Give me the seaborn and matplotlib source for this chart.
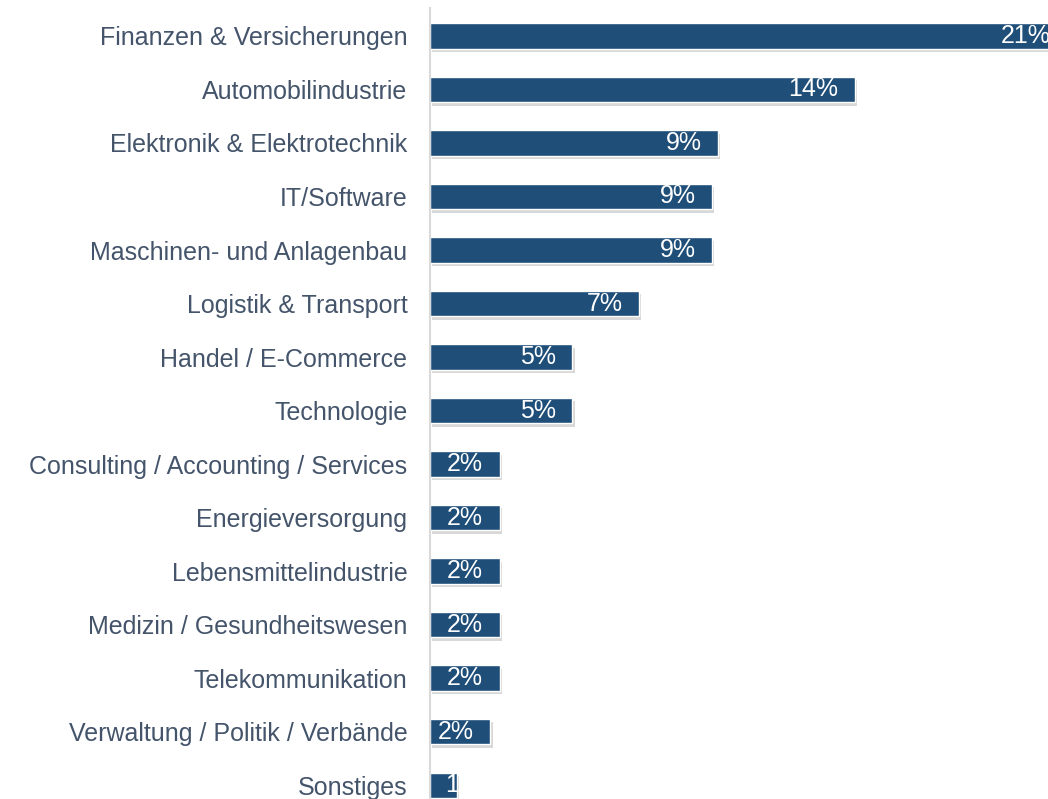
import pandas as pd
import matplotlib.pyplot as plt
import matplotlib.patheffects as pe
import seaborn as sns

# Werte (Anteil in %)
branchen = ['Finanzen & Versicherungen', 'Automobilindustrie', 'Elektronik & Elektrotechnik',
            'IT/Software', 'Maschinen- und Anlagenbau', 'Logistik & Transport',
            'Handel / E-Commerce', 'Technologie', 'Consulting / Accounting / Services',
            'Energieversorgung', 'Lebensmittelindustrie', 'Medizin / Gesundheitswesen',
            'Telekommunikation', 'Verwaltung / Politik / Verbände', 'Sonstiges']
anteile = [21.0, 14.0, 9.5, 9.3, 9.3, 6.9, 4.7, 4.7, 2.3, 2.3, 2.3, 2.3, 2.3, 2.0, 0.9]
beschriftung = ['21%', '14%', '9%', '9%', '9%', '7%', '5%', '5%', '2%', '2%', '2%', '2%',
                '2%', '2%', '1%']

df = pd.DataFrame({'Branche': branchen, 'Anteil': anteile, 'Label': beschriftung})

sns.set_theme(style="white")
plt.rcParams['font.family'] = ['Liberation Sans', 'DejaVu Sans']

fig = plt.figure(figsize=(10.48, 7.99), dpi=100, facecolor='white')
ax = fig.add_axes([0.41, 0.0, 0.59, 0.99])

sns.barplot(data=df, x='Anteil', y='Branche', color='#1F4E79', saturation=1,
            width=0.47, orient='h', ax=ax)

# leichter Schatten unter den Balken wie im Original
for bar in ax.patches:
    bar.set_path_effects([pe.SimplePatchShadow(offset=(1.5, -2.5), alpha=0.3,
                                               shadow_rgbFace='#7f7f7f'), pe.Normal()])

# Datenbeschriftungen innen am Balkenende
for i, row in df.iterrows():
    if row['Anteil'] < 1.5:
        ax.text(0.5, i, row['Label'], color='white', fontsize=18,
                ha='left', va='center', clip_on=False)
    else:
        ax.text(row['Anteil'] - 0.55, i, row['Label'], color='white', fontsize=18,
                ha='right', va='center', clip_on=False)

ax.set_xlim(0, 20.35)
ax.set_ylim(14.26, -0.523)
ax.set_xlabel('')
ax.set_ylabel('')
ax.set_xticks([])
ax.tick_params(axis='y', length=0, pad=16, labelsize=18, labelcolor='#44546A')

for s in ['top', 'right', 'bottom']:
    ax.spines[s].set_visible(False)
ax.spines['left'].set_color('#D9D9D9')
ax.spines['left'].set_linewidth(1.5)

plt.savefig('out.png', dpi=100, facecolor='white')
